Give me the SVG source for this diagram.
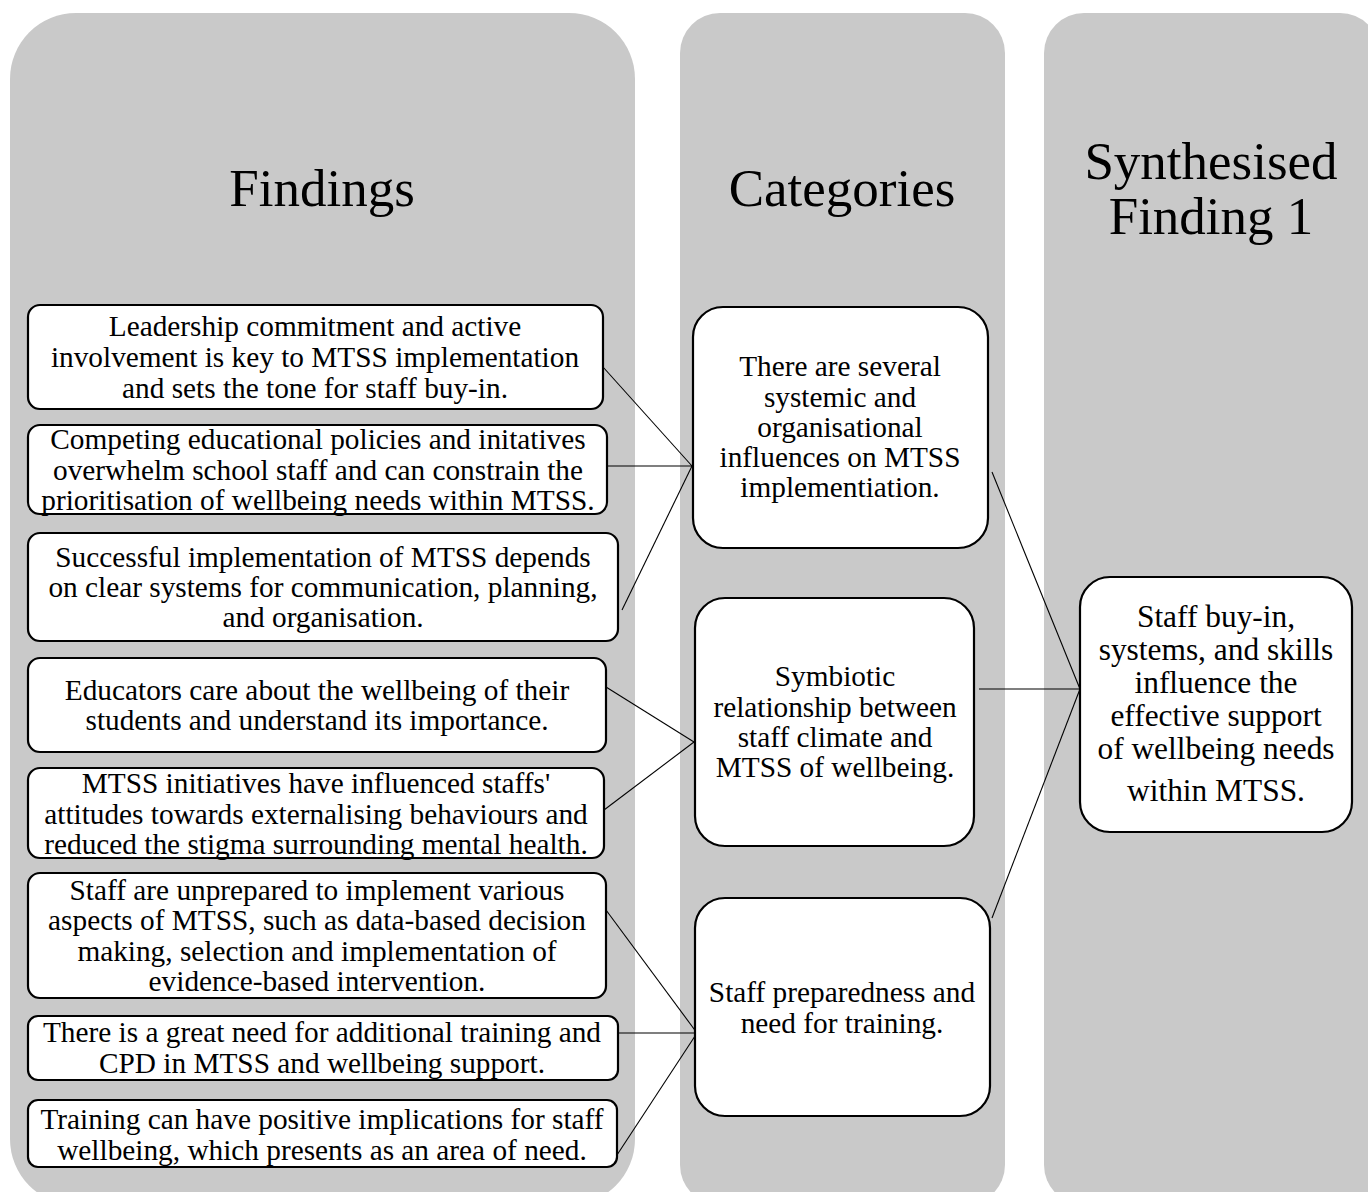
<svg xmlns="http://www.w3.org/2000/svg" width="1368" height="1192" viewBox="0 0 1368 1192">
  <style>
    .panel { fill: #c9c9c9; }
    .box { fill: #ffffff; stroke: #000000; stroke-width: 2.2; }
    .title { font-family: "Liberation Serif", "Times New Roman", serif; font-size: 53px; fill: #000; text-anchor: middle; }
    .t { font-family: "Liberation Serif", "Times New Roman", serif; font-size: 29.3px; fill: #000; text-anchor: middle; }
    .s { font-size: 31.4px; }
    .link { fill: none; stroke: #000000; stroke-width: 1.1; }
  </style>
  <rect width="1368" height="1192" fill="#ffffff"/>

  <!-- column panels -->
  <g id="panels">
    <rect class="panel" x="10" y="13" width="625" height="1192" rx="66" ry="66"/>
    <rect class="panel" x="680" y="13" width="325" height="1192" rx="40" ry="40"/>
    <rect class="panel" x="1044" y="13" width="336" height="1192" rx="40" ry="40"/>
  </g>

  <g id="titles">
    <text class="title" x="322" y="206">Findings</text>
    <text class="title" x="842" y="206">Categories</text>
    <text class="title" x="1211" y="179">Synthesised</text>
    <text class="title" x="1211" y="234">Finding 1</text>
  </g>

  <!-- connectors -->
  <g id="connectors">
    <line class="link" x1="603" y1="367" x2="692" y2="466"/>
    <line class="link" x1="607" y1="466" x2="692" y2="466"/>
    <line class="link" x1="622" y1="610" x2="692" y2="466"/>
    <line class="link" x1="606" y1="687" x2="694" y2="742"/>
    <line class="link" x1="604" y1="810" x2="694" y2="742"/>
    <line class="link" x1="606" y1="910" x2="697" y2="1033"/>
    <line class="link" x1="618" y1="1033" x2="697" y2="1033"/>
    <line class="link" x1="617" y1="1155" x2="697" y2="1033"/>
    <line class="link" x1="992" y1="472" x2="1080" y2="689"/>
    <line class="link" x1="979" y1="689" x2="1080" y2="689"/>
    <line class="link" x1="992" y1="918" x2="1080" y2="689"/>
  </g>

  <!-- findings -->
  <g id="finding-1">
    <rect class="box" x="28" y="305" width="575" height="104" rx="12"/>
    <text class="t" x="315" y="336">Leadership commitment and active</text>
    <text class="t" x="315" y="367">involvement is key to MTSS implementation</text>
    <text class="t" x="315" y="398">and sets the tone for staff buy-in.</text>
  </g>
  <g id="finding-2">
    <rect class="box" x="28" y="425" width="579" height="89" rx="12"/>
    <text class="t" x="318" y="449">Competing educational policies and initatives</text>
    <text class="t" x="318" y="480">overwhelm school staff and can constrain the</text>
    <text class="t" x="318" y="510">prioritisation of wellbeing needs within MTSS.</text>
  </g>
  <g id="finding-3">
    <rect class="box" x="28" y="533" width="590" height="108" rx="12"/>
    <text class="t" x="323" y="567">Successful implementation of MTSS depends</text>
    <text class="t" x="323" y="597">on clear systems for communication, planning,</text>
    <text class="t" x="323" y="627">and organisation.</text>
  </g>
  <g id="finding-4">
    <rect class="box" x="28" y="658" width="578" height="94" rx="12"/>
    <text class="t" x="317" y="700">Educators care about the wellbeing of their</text>
    <text class="t" x="317" y="730">students and understand its importance.</text>
  </g>
  <g id="finding-5">
    <rect class="box" x="28" y="768" width="576" height="90" rx="12"/>
    <text class="t" x="316" y="793">MTSS initiatives have influenced staffs'</text>
    <text class="t" x="316" y="824">attitudes towards externalising behaviours and</text>
    <text class="t" x="316" y="854">reduced the stigma surrounding mental health.</text>
  </g>
  <g id="finding-6">
    <rect class="box" x="28" y="873" width="578" height="125" rx="12"/>
    <text class="t" x="317" y="900">Staff are unprepared to implement various</text>
    <text class="t" x="317" y="930">aspects of MTSS, such as data-based decision</text>
    <text class="t" x="317" y="961">making, selection and implementation of</text>
    <text class="t" x="317" y="991">evidence-based intervention.</text>
  </g>
  <g id="finding-7">
    <rect class="box" x="28" y="1016" width="590" height="64" rx="10"/>
    <text class="t" x="322" y="1042">There is a great need for additional training and</text>
    <text class="t" x="322" y="1073">CPD in MTSS and wellbeing support.</text>
  </g>
  <g id="finding-8">
    <rect class="box" x="28" y="1100" width="589" height="67" rx="10"/>
    <text class="t" x="322" y="1129">Training can have positive implications for staff</text>
    <text class="t" x="322" y="1160">wellbeing, which presents as an area of need.</text>
  </g>

  <!-- categories -->
  <g id="category-1">
    <rect class="box" x="693" y="307" width="295" height="241" rx="30"/>
    <text class="t" x="840" y="376">There are several</text>
    <text class="t" x="840" y="407">systemic and</text>
    <text class="t" x="840" y="437">organisational</text>
    <text class="t" x="840" y="467">influences on MTSS</text>
    <text class="t" x="840" y="497">implementiation.</text>
  </g>
  <g id="category-2">
    <rect class="box" x="695" y="598" width="279" height="248" rx="30"/>
    <text class="t" x="835" y="686">Symbiotic</text>
    <text class="t" x="835" y="717">relationship between</text>
    <text class="t" x="835" y="747">staff climate and</text>
    <text class="t" x="835" y="777">MTSS of wellbeing.</text>
  </g>
  <g id="category-3">
    <rect class="box" x="695" y="898" width="295" height="218" rx="30"/>
    <text class="t" x="842" y="1002">Staff preparedness and</text>
    <text class="t" x="842" y="1033">need for training.</text>
  </g>

  <!-- synthesised finding -->
  <g id="synthesis">
    <rect class="box" x="1080" y="577" width="272" height="255" rx="30"/>
    <text class="t s" x="1216" y="627">Staff buy-in,</text>
    <text class="t s" x="1216" y="660">systems, and skills</text>
    <text class="t s" x="1216" y="693">influence the</text>
    <text class="t s" x="1216" y="726">effective support</text>
    <text class="t s" x="1216" y="759">of wellbeing needs</text>
    <text class="t s" x="1216" y="801">within MTSS.</text>
  </g>
</svg>
